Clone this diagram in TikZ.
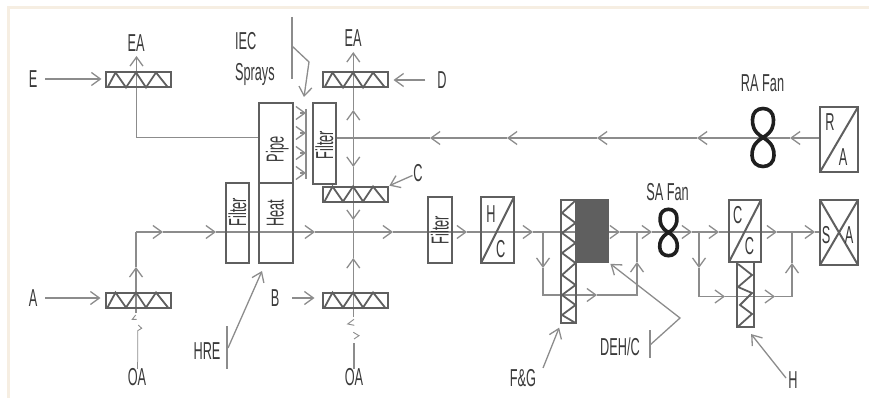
\documentclass[tikz,border=0pt]{standalone}
\usepackage{fontspec}
\setmainfont[FakeStretch=0.52]{Liberation Sans}
\usetikzlibrary{arrows.meta}

\definecolor{framecol}{HTML}{F6EEE2}
\definecolor{unitcol}{HTML}{5F5F5F}
\definecolor{flowcol}{HTML}{8C8C8C}
\definecolor{textcol}{HTML}{3A3A3A}

\tikzset{
  flow/.style={draw=flowcol, line width=1.3pt},
  unit/.style={draw=unitcol, line width=2pt, inner sep=0pt, outer sep=0pt},
  zig/.style={draw=unitcol, line width=1.8pt, line join=miter},
  lab/.style={inner sep=0pt, outer sep=0pt, text=textcol, font=\fontsize{24.5}{26}\selectfont,
    text height=17pt, text depth=0pt},
  fan8/.pic={
    \draw[draw=black!88, line width=3.6pt, pic actions]
      (0,0) .. controls (10,-6) and (10.5,-12) .. (10.5,-18)
      .. controls (10.5,-25) and (6,-29) .. (0,-29)
      .. controls (-6,-29) and (-10.5,-25) .. (-10.5,-18)
      .. controls (-10.5,-12) and (-10,-6) .. (0,0)
      .. controls (10,6) and (11,12) .. (11,18)
      .. controls (11,25) and (6,29) .. (0,29)
      .. controls (-6,29) and (-11,25) .. (-11,18)
      .. controls (-11,12) and (-10,6) .. (0,0);
  }
}

\begin{document}
\begin{tikzpicture}[x=1pt, y=-1pt, >={Straight Barb[length=9pt,width=13pt]}]
        \useasboundingbox (0,0) rectangle (869,398);
        \coordinate (frame-1) at (869,7.5);
        \coordinate (frame-2) at (8.5,398);
        \draw [draw=framecol, line width=2.5pt] (frame-1) -| (frame-2);

        % points the air lines run through
        \foreach \x [count=\i] in {136,163,216,315,393,467,533,620,652,692,719,777,815,820}
          \coordinate (main-\i) at (\x,232);
        \foreach \x [count=\i] in {820,790,697,597,507,430,336.5}
          \coordinate (return-\i) at (\x,138);
        \foreach \y [count=\i] in {316.7,258,232,220,194,167,138,110,52}
          \coordinate (mix-\i) at (353.3,\y);
        \foreach \y [count=\i] in {313,267}
          \coordinate (oa-\i) at (136,\y);
        \foreach \n/\x/\y in {pass-1/543/232, pass-2/543/268, pass-3/543/295, pass-4/597/295,
            pass-5/637/295, pass-6/637/262, pass-7/637/232,
            coil-1/699/232, coil-2/699/268, coil-3/699/296.5, coil-4/725/296.5, coil-5/775/296.5,
            coil-6/792/296.5, coil-7/792/263, coil-8/792/232,
            exhaust-1/259/137.5, exhaust-2/136.5/137.5, exhaust-3/136.5/56,
            iec-1/292/17, iec-2/292/79, iec-3/292/46, iec-4/309/62, iec-5/304/97,
            spray-1/306/109, spray-2/306/179,
            hre-1/227/326, hre-2/227/369, hre-3/228/348, hre-4/262/271,
            deh-1/650/330, deh-2/650/358, deh-3/650/345, deh-4/680/318,
            gap-1/137.7/362, gap-2/354/343, fg-1/543/368, h-1/786/378}
          \coordinate (\n) at (\x,\y);

        \foreach \i [evaluate=\i as \j using int(\i+1)] in {1,...,12}
          \draw [flow, ->] (main-\i) -- (main-\j);
        \draw [flow] (main-13) -- (main-14);
        \foreach \i [evaluate=\i as \j using int(\i+1)] in {1,...,5}
          \draw [flow, ->] (return-\i) -- (return-\j);
        \draw [flow] (return-6) -- (return-7);
        \foreach \a/\b in {1/2,5/4,7/6,7/8,8/9}
          \draw [flow, ->] (mix-\a) -- (mix-\b);
        \foreach \a/\b in {2/3,4/3,6/5}
          \draw [flow] (mix-\a) -- (mix-\b);
        \draw [flow, ->] (oa-1) -- (oa-2);
        \draw [flow] (oa-2) -- (main-1);
        \draw [flow, ->] (pass-1) -- (pass-2);
        \draw [flow, ->] (pass-2) -- (pass-3) -- (pass-4);
        \draw [flow, ->] (pass-4) -- (pass-5) -- (pass-6);
        \draw [flow] (pass-6) -- (pass-7);
        \draw [flow, ->] (coil-1) -- (coil-2);
        \draw [flow, ->] (coil-2) -- (coil-3) -- (coil-4);
        \draw [flow, ->] (coil-4) -- (coil-5);
        \draw [flow, ->] (coil-5) -- (coil-6) -- (coil-7);
        \draw [flow] (coil-7) -- (coil-8);
        \draw [flow, ->] (exhaust-1) -- (exhaust-2) -- (exhaust-3);

        % dampers
        \foreach \m/\x/\y in {e/138/80, a/138/300, d/355/80, c/355/194, b/355/300} {
          \node [unit, minimum width=65pt, minimum height=15pt] (damper-\m) at (\x,\y) {};
          \draw [zig] (damper-\m.south west) ++(2,0) -- ++(8,-15) -- ++(10.5,15) -- ++(10,-15)
            -- ++(10,15) -- ++(10,-15) -- ++(12,15);
        }

        % boxes
        \foreach \m/\x/\y/\w/\h in {filter-1/237.5/223/23/80, pipe/276/143/34/80, heat/276/223/34/80,
            filter-2/324.5/143.5/23/81, filter-3/440/230/24/66, hc/497.5/230/33/66,
            cc/745/231/32/62, sa/839/232.5/38/65, ra/839/139.5/38/65}
          \node [unit, minimum width=\w pt, minimum height=\h pt] (\m) at (\x,\y) {};
        \foreach \m in {hc,cc,ra}
          \draw [unit] (\m.south west) -- (\m.north east);
        \draw [unit] (sa.south west) -- (sa.north east) (sa.north west) -- (sa.south east);

        % coils
        \node [unit, minimum width=15pt, minimum height=123pt] (coil-fg) at (568.5,261.5) {};
        \node [unit, fill=unitcol, minimum width=32pt, minimum height=62pt] (block) at (592,231) {};
        \draw [zig] (575.5,200.5) -- (562,213) -- (575.5,223) -- (562,233) -- (575.5,243) -- (562,253)
          -- (575.5,263) -- (562,275) -- (575.5,285) -- (562,295) -- (575.5,305) -- (562,315) -- (575.5,323);
        \node [unit, minimum width=17pt, minimum height=65pt] (coil-h) at (745.5,294.5) {};
        \draw [zig] (738,264) -- (752,275) -- (738,287) -- (752,293) -- (740,305) -- (752,314) -- (737.5,327);

        % fans
        \pic (fan-ra) at (763,137.5) {fan8};
        \pic [scale=0.8, line width=3pt] (fan-sa) at (668.5,232.5) {fan8};

        % labels
        \foreach \m/\t/\x/\y in {e/E/33/79, ea-1/EA/136/43, ea-2/EA/353/38.5, d/D/442/80, c/C/418/173,
            a/A/33/298, b/B/275/298, oa-1/OA/137/377, oa-2/OA/354/377, hre/HRE/207/351,
            fg/F\&G/523/378, deh/DEH\slash C/620/347, h/H/793/380,
            safan/SA Fan/667.5/192, rafan/RA Fan/762.5/83,
            s/S/826/235, sa-a/A/849/235, r/R/830/122, ra-a/A/843/157,
            hc-h/H/491/214, hc-c/C/500.7/249, cc-1/C/737.7/215, cc-2/C/749.5/246}
          \node [lab] (lab-\m) at (\x,\y) {\t};
        \node [lab, anchor=west] (lab-iec) at (235,41.5) {IEC};
        \node [lab, anchor=west] (lab-sprays) at (235,72) {Sprays};
        \foreach \t/\x/\y [count=\i] in {Filter/237.5/212, Pipe/275/149.5, Heat/275/213,
            Filter/324.5/145, Filter/440/230}
          \node [lab, rotate=90] (lab-box-\i) at (\x,\y) {\t};

        % leaders
        \draw [flow, ->, shorten <=8pt, shorten >=4pt] (lab-e.east) -- (lab-e.east -| damper-e.west);
        \draw [flow, ->, shorten <=8pt, shorten >=5pt] (lab-a.east) -- (lab-a.east -| damper-a.west);
        \draw [flow, ->, shorten <=13pt, shorten >=8pt] (lab-b.east) -- (lab-b.east -| damper-b.west);
        \draw [flow, ->, shorten <=12pt, shorten >=6pt] (lab-d.west) -- (lab-d.west -| damper-d.east);
        \draw [flow, ->, shorten <=1pt, shorten >=2pt] (lab-c) -- (damper-c.north east);
        \draw [flow] (gap-1) -- (lab-oa-1.north -| gap-1);
        \draw [flow] (gap-2) -- (lab-oa-2.north -| gap-2);
        \draw [flow] (iec-1) -- (iec-2);
        \draw [flow, ->] (iec-3) -- (iec-4) -- (iec-5);
        \draw [flow] (spray-1) -- (spray-2);
        \foreach \y [count=\i] in {113,133,153,173} {
          \coordinate (jet-\i) at (306,\y);
          \draw [flow, ->] ([xshift=-6pt]jet-\i) -- (jet-\i);
        }
        \draw [flow] (hre-1) -- (hre-2);
        \draw [flow, ->] (hre-3) -- (hre-4);
        \draw [flow] (deh-1) -- (deh-2);
        \draw [flow, ->, shorten >=3pt] (deh-3) -- (deh-4) -- (block.south east);
        \draw [flow, ->, shorten >=5pt] (fg-1) -- (coil-fg.south west);
        \draw [flow, ->, shorten >=9pt] (h-1) -- (coil-h.south);

        % breaks in the outside air lines
        \draw [flow, line width=0.9pt] (135.7,315) -- (132.3,319.3) -- (136.7,319.3);
        \draw [flow, line width=0.9pt] (138.3,325) -- (141.7,328.3) -- (137.7,330.7) -- (gap-1);
        \draw [flow, line width=0.9pt] (354,319.3) -- (347.7,324) -- (354.3,325.3);
        \draw [flow, line width=0.9pt] (353.3,332.3) -- (359,335.7) -- (354,339);
    \end{tikzpicture}
\end{document}
